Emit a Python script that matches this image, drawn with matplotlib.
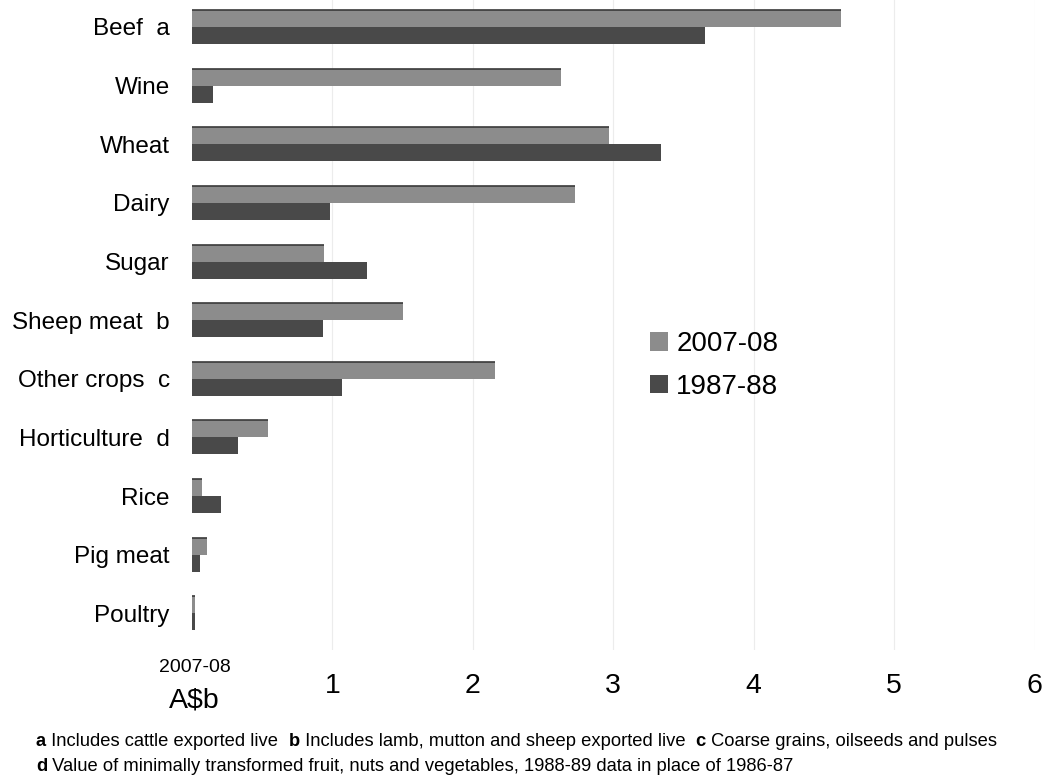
#!/usr/bin/env python3

'''
Australian farm exports by commodity, 2007-08 against 1987-88 (A$b)
'''

import matplotlib as mpl
mpl.use('Agg')
import matplotlib.pyplot as plt
import numpy as np

categories = ['Beef  a', 'Wine', 'Wheat', 'Dairy', 'Sugar', 'Sheep meat  b',
              'Other crops  c', 'Horticulture  d', 'Rice', 'Pig meat', 'Poultry']
exports_2007 = [4.62, 2.63, 2.97, 2.73, 0.94, 1.50, 2.16, 0.54, 0.07, 0.11, 0.02]
exports_1987 = [3.65, 0.15, 3.34, 0.98, 1.25, 0.93, 1.07, 0.33, 0.21, 0.06, 0.02]
xticks = [1, 2, 3, 4, 5, 6]

footnote_1 = [('a', ' Includes cattle exported live  '),
              ('b', ' Includes lamb, mutton and sheep exported live  '),
              ('c', ' Coarse grains, oilseeds and pulses')]
footnote_2 = [('d', ' Value of minimally transformed fruit, nuts and vegetables, '
                    '1988-89 data in place of 1986-87')]

plt.rcParams['font.family'] = ['Liberation Sans', 'DejaVu Sans']
NOTE_SIZE = 13.2

fig = plt.figure(figsize=(10.43, 7.77), dpi=100)
ax = fig.add_axes([0.184, 0.163, 0.808, 0.837])

y = np.arange(len(categories))
h = 0.29
ax.barh(y - h / 2, exports_2007, height=h, color='#8c8c8c', label='2007-08')
ax.barh(y + h / 2, exports_1987, height=h, color='#494949', label='1987-88')
# thin dark rule along the top of each 2007-08 bar
ax.hlines(y - h, 0, exports_2007, color='#3a3a3a', lw=1.2)

ax.set_xlim(0, 6)
ax.set_ylim(10.63, -0.46)
ax.set_yticks(y)
ax.set_yticklabels(categories, fontsize=17.5)
ax.set_xticks(xticks)
ax.set_xticklabels([str(t) for t in xticks], fontsize=20.5)
ax.tick_params(axis='both', length=0)
ax.tick_params(axis='y', pad=16)
ax.tick_params(axis='x', pad=16)
for s in ax.spines.values():
    s.set_visible(False)
ax.grid(axis='x', color='#ececec', lw=0.8)
ax.set_axisbelow(True)

# unit label in place of the zero tick
tr = mpl.transforms.blended_transform_factory(ax.transData, ax.transAxes)
ax.text(0.02, -0.014, '2007-08', transform=tr, ha='center', va='top',
        fontsize=14)
ax.text(0.02, -0.057, 'A$b', transform=tr, ha='center', va='top',
        fontsize=20.5)

ax.legend(loc='center left', bbox_to_anchor=(0.514, 0.438), frameon=False,
          fontsize=20, handlelength=0.65, handleheight=0.65,
          handletextpad=0.29, labelspacing=0.59)


def footnote(parts, x, ypos):
    # bold note letter followed by its plain text, laid out left to right
    renderer = fig.canvas.get_renderer()
    for letter, body in parts:
        for s, w in ((letter, 'bold'), (body, 'normal')):
            t = fig.text(x, ypos, s, fontsize=NOTE_SIZE, weight=w,
                         va='baseline')
            x = t.get_window_extent(renderer).x1 / fig.bbox.width


footnote(footnote_1, 36 / 1043, 1 - 746 / 777)
footnote(footnote_2, 36 / 1043, 1 - 771 / 777)

fig.savefig('out.png', dpi=100)
